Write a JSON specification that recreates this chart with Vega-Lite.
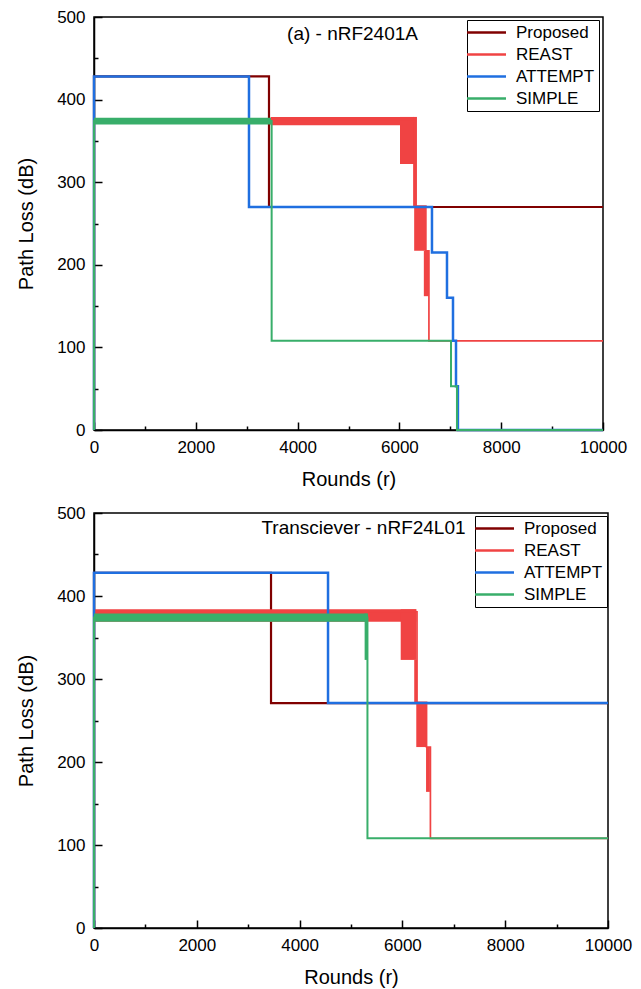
{
  "$schema": "https://vega.github.io/schema/vega-lite/v6.json",
  "padding": {"left": 15, "top": 7, "right": 5, "bottom": 5},
  "background": "white",
  "config": {
    "font": "Liberation Sans",
    "view": {"stroke": "black", "strokeWidth": 1.5},
    "axis": {
      "grid": false, "domainColor": "black", "domainWidth": 1.5,
      "tickColor": "black", "tickWidth": 1.5,
      "labelFont": "Liberation Sans", "labelFontSize": 17, "labelColor": "black",
      "titleFont": "Liberation Sans", "titleFontSize": 20, "titleFontWeight": "normal", "titleColor": "black",
      "labelFlush": false, "labelOverlap": false
    },
    "legend": {
      "symbolType": "M-4,0H4", "symbolStrokeWidth": 2.5, "symbolSize": 95,
      "symbolOffset": 7, "labelOffset": 21,
      "labelFont": "Liberation Sans", "labelFontSize": 17, "labelColor": "black",
      "strokeColor": "black", "fillColor": "white", "padding": 4, "rowPadding": 4,
      "cornerRadius": 0, "titlePadding": 0
    }
  },
  "datasets": {
    "lines": [
      {"p": "a", "s": "Proposed", "i": 0, "r": 0, "pl": 0},
      {"p": "a", "s": "Proposed", "i": 1, "r": 0, "pl": 428},
      {"p": "a", "s": "Proposed", "i": 2, "r": 3438, "pl": 270},
      {"p": "a", "s": "Proposed", "i": 3, "r": 10000, "pl": 270},
      {"p": "a", "s": "REAST", "i": 0, "r": 0, "pl": 0},
      {"p": "a", "s": "REAST", "i": 1, "r": 0, "pl": 374},
      {"p": "a", "s": "REAST", "i": 2, "r": 6300, "pl": 271},
      {"p": "a", "s": "REAST", "i": 3, "r": 6520, "pl": 217},
      {"p": "a", "s": "REAST", "i": 4, "r": 6580, "pl": 108},
      {"p": "a", "s": "REAST", "i": 5, "r": 10000, "pl": 108},
      {"p": "a", "s": "ATTEMPT", "i": 0, "r": 0, "pl": 0},
      {"p": "a", "s": "ATTEMPT", "i": 1, "r": 0, "pl": 428},
      {"p": "a", "s": "ATTEMPT", "i": 2, "r": 3045, "pl": 270},
      {"p": "a", "s": "ATTEMPT", "i": 3, "r": 6640, "pl": 215},
      {"p": "a", "s": "ATTEMPT", "i": 4, "r": 6935, "pl": 160},
      {"p": "a", "s": "ATTEMPT", "i": 5, "r": 7053, "pl": 108},
      {"p": "a", "s": "ATTEMPT", "i": 6, "r": 7112, "pl": 53},
      {"p": "a", "s": "ATTEMPT", "i": 7, "r": 7150, "pl": 0},
      {"p": "a", "s": "ATTEMPT", "i": 8, "r": 10000, "pl": 0},
      {"p": "a", "s": "SIMPLE", "i": 0, "r": 0, "pl": 0},
      {"p": "a", "s": "SIMPLE", "i": 1, "r": 0, "pl": 374},
      {"p": "a", "s": "SIMPLE", "i": 2, "r": 3490, "pl": 108},
      {"p": "a", "s": "SIMPLE", "i": 3, "r": 7014, "pl": 53},
      {"p": "a", "s": "SIMPLE", "i": 4, "r": 7131, "pl": 0},
      {"p": "a", "s": "SIMPLE", "i": 5, "r": 10000, "pl": 0},
      {"p": "b", "s": "Proposed", "i": 0, "r": 0, "pl": 0},
      {"p": "b", "s": "Proposed", "i": 1, "r": 0, "pl": 428},
      {"p": "b", "s": "Proposed", "i": 2, "r": 3444, "pl": 271},
      {"p": "b", "s": "Proposed", "i": 3, "r": 10000, "pl": 271},
      {"p": "b", "s": "REAST", "i": 0, "r": 0, "pl": 0},
      {"p": "b", "s": "REAST", "i": 1, "r": 0, "pl": 381},
      {"p": "b", "s": "REAST", "i": 2, "r": 6284, "pl": 272},
      {"p": "b", "s": "REAST", "i": 3, "r": 6470, "pl": 218},
      {"p": "b", "s": "REAST", "i": 4, "r": 6545, "pl": 108},
      {"p": "b", "s": "REAST", "i": 5, "r": 10000, "pl": 108},
      {"p": "b", "s": "ATTEMPT", "i": 0, "r": 0, "pl": 0},
      {"p": "b", "s": "ATTEMPT", "i": 1, "r": 0, "pl": 428},
      {"p": "b", "s": "ATTEMPT", "i": 2, "r": 4553, "pl": 271},
      {"p": "b", "s": "ATTEMPT", "i": 3, "r": 10000, "pl": 271},
      {"p": "b", "s": "SIMPLE", "i": 0, "r": 0, "pl": 0},
      {"p": "b", "s": "SIMPLE", "i": 1, "r": 0, "pl": 374},
      {"p": "b", "s": "SIMPLE", "i": 2, "r": 5320, "pl": 108},
      {"p": "b", "s": "SIMPLE", "i": 3, "r": 10000, "pl": 108}
    ],
    "bands": [
      {"p": "a", "s": "REAST", "r": 3470, "r2": 6287, "pl": 369, "pl2": 379},
      {"p": "a", "s": "REAST", "r": 6012, "r2": 6287, "pl": 322, "pl2": 379},
      {"p": "a", "s": "REAST", "r": 6270, "r2": 6345, "pl": 271, "pl2": 379},
      {"p": "a", "s": "REAST", "r": 6290, "r2": 6520, "pl": 217, "pl2": 271},
      {"p": "a", "s": "REAST", "r": 6480, "r2": 6580, "pl": 162, "pl2": 217},
      {"p": "a", "s": "SIMPLE", "r": 0, "r2": 3477, "pl": 370, "pl2": 378},
      {"p": "b", "s": "REAST", "r": 0, "r2": 6270, "pl": 369, "pl2": 384},
      {"p": "b", "s": "REAST", "r": 5967, "r2": 6270, "pl": 323, "pl2": 384},
      {"p": "b", "s": "REAST", "r": 6230, "r2": 6290, "pl": 272, "pl2": 323},
      {"p": "b", "s": "REAST", "r": 6270, "r2": 6465, "pl": 218, "pl2": 272},
      {"p": "b", "s": "REAST", "r": 6460, "r2": 6535, "pl": 164, "pl2": 218},
      {"p": "b", "s": "SIMPLE", "r": 0, "r2": 5300, "pl": 369, "pl2": 379},
      {"p": "b", "s": "SIMPLE", "r": 5265, "r2": 5330, "pl": 323, "pl2": 379}
    ],
    "notes": [
      {"p": "a", "r": 5079, "pl": 479, "label": "(a) - nRF2401A"},
      {"p": "b", "r": 5243, "pl": 482, "label": "Transciever - nRF24L01"}
    ]
  },
  "spacing": 13,
  "resolve": {"scale": {"color": "independent"}, "legend": {"color": "independent"}},
  "vconcat": [
    {
      "width": 509, "height": 413,
      "encoding": {
        "x": {"field": "r", "type": "quantitative", "scale": {"domain": [0, 10000], "nice": false},
          "axis": {"values": [0,1000,2000,3000,4000,5000,6000,7000,8000,9000,10000],
            "labelExpr": "datum.value % 2000 === 0 ? datum.label : ''",
            "format": "d",
            "tickSize": {"condition": {"test": "datum.value % 2000 === 0", "value": -8}, "value": -4},
            "labelPadding": 17, "title": "Rounds (r)", "titlePadding": 10}},
        "y": {"field": "pl", "type": "quantitative", "scale": {"domain": [0, 500], "nice": false},
          "axis": {"values": [0,50,100,150,200,250,300,350,400,450,500],
            "labelExpr": "datum.value % 100 === 0 ? datum.label : ''",
            "tickSize": {"condition": {"test": "datum.value % 100 === 0", "value": -8}, "value": -4},
            "labelPadding": 17, "title": "Path Loss (dB)", "titlePadding": 20}}
      },
      "layer": [
        {"data": {"name": "lines"}, "transform": [{"filter": "datum.p === 'a' && datum.s === 'Proposed'"}],
          "mark": {"type": "line", "interpolate": "step-after", "strokeWidth": 2.2},
          "encoding": {"order": {"field": "i", "type": "quantitative"},
            "color": {"field": "s", "type": "nominal", "scale": {"domain": ["Proposed", "REAST", "ATTEMPT", "SIMPLE"], "range": ["#800000", "#F04343", "#1F6FE0", "#38AE6A"]},
              "legend": {"title": null, "orient": "none", "legendX": 373, "legendY": 3}}}},
        {"data": {"name": "bands"}, "transform": [{"filter": "datum.p === 'a' && datum.s === 'REAST'"}],
          "mark": {"type": "rect", "color": "#F04343"},
          "encoding": {"x2": {"field": "r2"}, "y2": {"field": "pl2"}}},
        {"data": {"name": "lines"}, "transform": [{"filter": "datum.p === 'a' && datum.s === 'REAST'"}],
          "mark": {"type": "line", "interpolate": "step-after", "strokeWidth": 1.7},
          "encoding": {"order": {"field": "i", "type": "quantitative"}, "color": {"field": "s", "type": "nominal"}}},
        {"data": {"name": "lines"}, "transform": [{"filter": "datum.p === 'a' && datum.s === 'ATTEMPT'"}],
          "mark": {"type": "line", "interpolate": "step-after", "strokeWidth": 2.5},
          "encoding": {"order": {"field": "i", "type": "quantitative"}, "color": {"field": "s", "type": "nominal"}}},
        {"data": {"name": "bands"}, "transform": [{"filter": "datum.p === 'a' && datum.s === 'SIMPLE'"}],
          "mark": {"type": "rect", "color": "#38AE6A"},
          "encoding": {"x2": {"field": "r2"}, "y2": {"field": "pl2"}}},
        {"data": {"name": "lines"}, "transform": [{"filter": "datum.p === 'a' && datum.s === 'SIMPLE'"}],
          "mark": {"type": "line", "interpolate": "step-after", "strokeWidth": 2},
          "encoding": {"order": {"field": "i", "type": "quantitative"}, "color": {"field": "s", "type": "nominal"}}},
        {"data": {"name": "notes"}, "transform": [{"filter": "datum.p === 'a'"}],
          "mark": {"type": "text", "fontSize": 19, "font": "Liberation Sans", "color": "black"},
          "encoding": {"text": {"field": "label"}}}
      ]
    },
    {
      "width": 514, "height": 415,
      "encoding": {
        "x": {"field": "r", "type": "quantitative", "scale": {"domain": [0, 10000], "nice": false},
          "axis": {"values": [0,1000,2000,3000,4000,5000,6000,7000,8000,9000,10000],
            "labelExpr": "datum.value % 2000 === 0 ? datum.label : ''",
            "format": "d",
            "tickSize": {"condition": {"test": "datum.value % 2000 === 0", "value": -8}, "value": -4},
            "labelPadding": 17, "title": "Rounds (r)", "titlePadding": 10}},
        "y": {"field": "pl", "type": "quantitative", "scale": {"domain": [0, 500], "nice": false},
          "axis": {"values": [0,50,100,150,200,250,300,350,400,450,500],
            "labelExpr": "datum.value % 100 === 0 ? datum.label : ''",
            "tickSize": {"condition": {"test": "datum.value % 100 === 0", "value": -8}, "value": -4},
            "labelPadding": 17, "title": "Path Loss (dB)", "titlePadding": 20}}
      },
      "layer": [
        {"data": {"name": "lines"}, "transform": [{"filter": "datum.p === 'b' && datum.s === 'Proposed'"}],
          "mark": {"type": "line", "interpolate": "step-after", "strokeWidth": 2.2},
          "encoding": {"order": {"field": "i", "type": "quantitative"},
            "color": {"field": "s", "type": "nominal", "scale": {"domain": ["Proposed", "REAST", "ATTEMPT", "SIMPLE"], "range": ["#800000", "#F04343", "#1F6FE0", "#38AE6A"]},
              "legend": {"title": null, "orient": "none", "legendX": 381, "legendY": 3}}}},
        {"data": {"name": "bands"}, "transform": [{"filter": "datum.p === 'b' && datum.s === 'REAST'"}],
          "mark": {"type": "rect", "color": "#F04343"},
          "encoding": {"x2": {"field": "r2"}, "y2": {"field": "pl2"}}},
        {"data": {"name": "lines"}, "transform": [{"filter": "datum.p === 'b' && datum.s === 'REAST'"}],
          "mark": {"type": "line", "interpolate": "step-after", "strokeWidth": 1.7},
          "encoding": {"order": {"field": "i", "type": "quantitative"}, "color": {"field": "s", "type": "nominal"}}},
        {"data": {"name": "lines"}, "transform": [{"filter": "datum.p === 'b' && datum.s === 'ATTEMPT'"}],
          "mark": {"type": "line", "interpolate": "step-after", "strokeWidth": 2.5},
          "encoding": {"order": {"field": "i", "type": "quantitative"}, "color": {"field": "s", "type": "nominal"}}},
        {"data": {"name": "bands"}, "transform": [{"filter": "datum.p === 'b' && datum.s === 'SIMPLE'"}],
          "mark": {"type": "rect", "color": "#38AE6A"},
          "encoding": {"x2": {"field": "r2"}, "y2": {"field": "pl2"}}},
        {"data": {"name": "lines"}, "transform": [{"filter": "datum.p === 'b' && datum.s === 'SIMPLE'"}],
          "mark": {"type": "line", "interpolate": "step-after", "strokeWidth": 2},
          "encoding": {"order": {"field": "i", "type": "quantitative"}, "color": {"field": "s", "type": "nominal"}}},
        {"data": {"name": "notes"}, "transform": [{"filter": "datum.p === 'b'"}],
          "mark": {"type": "text", "fontSize": 19, "font": "Liberation Sans", "color": "black"},
          "encoding": {"text": {"field": "label"}}}
      ]
    }
  ]
}
